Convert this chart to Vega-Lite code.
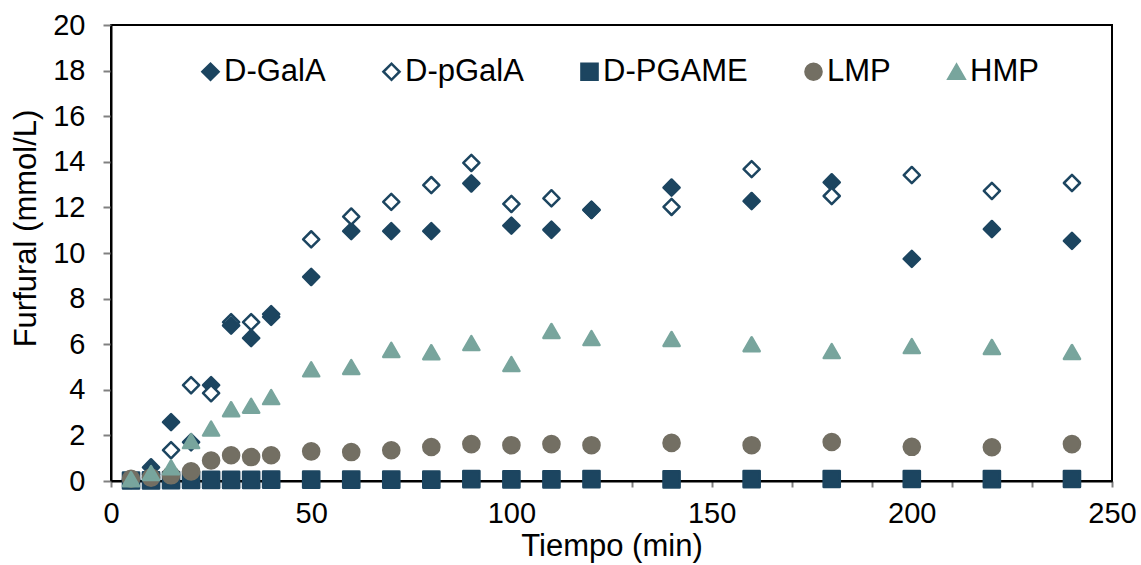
{
  "$schema": "https://vega.github.io/schema/vega-lite/v6.json",
  "autosize": {"type": "none"},
  "padding": {"left": 111, "top": 25, "right": 29, "bottom": 84},
  "width": 1001,
  "height": 456,
  "background": "white",
  "config": {
    "font": "Liberation Sans",
    "view": {"stroke": "#000000", "strokeWidth": 2},
    "axis": {"grid": false, "domainColor": "#000000", "domainWidth": 2, "tickColor": "#808080", "tickWidth": 2, "labelColor": "#000000", "titleColor": "#000000", "labelFont": "Liberation Sans", "titleFont": "Liberation Sans", "titleFontWeight": "normal", "labelFontSize": 29, "titleFontSize": 31},
    "legend": {"labelFont": "Liberation Sans", "labelFontSize": 31, "labelColor": "#000000", "symbolSize": 260, "symbolStrokeWidth": 2.5}
  },
  "data": {"values": [
    {"t": 30, "serie": "D-pGalA", "v": 6.97},
    {"t": 40, "serie": "D-pGalA", "v": 7.2},
    {"t": 120, "serie": "D-pGalA", "v": 11.88},
    {"t": 5, "serie": "D-GalA", "v": 0.05},
    {"t": 10, "serie": "D-GalA", "v": 0.6},
    {"t": 15, "serie": "D-GalA", "v": 2.58},
    {"t": 20, "serie": "D-GalA", "v": 1.7},
    {"t": 25, "serie": "D-GalA", "v": 4.2},
    {"t": 30, "serie": "D-GalA", "v": 6.82},
    {"t": 35, "serie": "D-GalA", "v": 6.27},
    {"t": 40, "serie": "D-GalA", "v": 7.32},
    {"t": 50, "serie": "D-GalA", "v": 8.95},
    {"t": 60, "serie": "D-GalA", "v": 10.96},
    {"t": 70, "serie": "D-GalA", "v": 10.96},
    {"t": 80, "serie": "D-GalA", "v": 10.96},
    {"t": 90, "serie": "D-GalA", "v": 13.05},
    {"t": 100, "serie": "D-GalA", "v": 11.2},
    {"t": 110, "serie": "D-GalA", "v": 11.02},
    {"t": 120, "serie": "D-GalA", "v": 11.9},
    {"t": 140, "serie": "D-GalA", "v": 12.87},
    {"t": 160, "serie": "D-GalA", "v": 12.28},
    {"t": 180, "serie": "D-GalA", "v": 13.1},
    {"t": 200, "serie": "D-GalA", "v": 9.74},
    {"t": 220, "serie": "D-GalA", "v": 11.05},
    {"t": 240, "serie": "D-GalA", "v": 10.53},
    {"t": 5, "serie": "D-pGalA", "v": 0.05},
    {"t": 10, "serie": "D-pGalA", "v": 0.3},
    {"t": 15, "serie": "D-pGalA", "v": 1.35},
    {"t": 20, "serie": "D-pGalA", "v": 4.2},
    {"t": 25, "serie": "D-pGalA", "v": 3.85},
    {"t": 35, "serie": "D-pGalA", "v": 6.97},
    {"t": 50, "serie": "D-pGalA", "v": 10.6},
    {"t": 60, "serie": "D-pGalA", "v": 11.6},
    {"t": 70, "serie": "D-pGalA", "v": 12.24},
    {"t": 80, "serie": "D-pGalA", "v": 12.98},
    {"t": 90, "serie": "D-pGalA", "v": 13.95},
    {"t": 100, "serie": "D-pGalA", "v": 12.15},
    {"t": 110, "serie": "D-pGalA", "v": 12.4},
    {"t": 140, "serie": "D-pGalA", "v": 12.02},
    {"t": 160, "serie": "D-pGalA", "v": 13.68},
    {"t": 180, "serie": "D-pGalA", "v": 12.5},
    {"t": 200, "serie": "D-pGalA", "v": 13.42},
    {"t": 220, "serie": "D-pGalA", "v": 12.72},
    {"t": 240, "serie": "D-pGalA", "v": 13.07},
    {"t": 5, "serie": "D-PGAME", "v": 0.02},
    {"t": 10, "serie": "D-PGAME", "v": 0.03},
    {"t": 15, "serie": "D-PGAME", "v": 0.04},
    {"t": 20, "serie": "D-PGAME", "v": 0.05},
    {"t": 25, "serie": "D-PGAME", "v": 0.05},
    {"t": 30, "serie": "D-PGAME", "v": 0.05},
    {"t": 35, "serie": "D-PGAME", "v": 0.05},
    {"t": 40, "serie": "D-PGAME", "v": 0.06},
    {"t": 50, "serie": "D-PGAME", "v": 0.06},
    {"t": 60, "serie": "D-PGAME", "v": 0.06},
    {"t": 70, "serie": "D-PGAME", "v": 0.06},
    {"t": 80, "serie": "D-PGAME", "v": 0.06},
    {"t": 90, "serie": "D-PGAME", "v": 0.08},
    {"t": 100, "serie": "D-PGAME", "v": 0.07},
    {"t": 110, "serie": "D-PGAME", "v": 0.07},
    {"t": 120, "serie": "D-PGAME", "v": 0.08},
    {"t": 140, "serie": "D-PGAME", "v": 0.07},
    {"t": 160, "serie": "D-PGAME", "v": 0.08},
    {"t": 180, "serie": "D-PGAME", "v": 0.09},
    {"t": 200, "serie": "D-PGAME", "v": 0.09},
    {"t": 220, "serie": "D-PGAME", "v": 0.08},
    {"t": 240, "serie": "D-PGAME", "v": 0.09},
    {"t": 5, "serie": "LMP", "v": 0.1},
    {"t": 10, "serie": "LMP", "v": 0.15},
    {"t": 15, "serie": "LMP", "v": 0.25},
    {"t": 20, "serie": "LMP", "v": 0.42},
    {"t": 25, "serie": "LMP", "v": 0.9},
    {"t": 30, "serie": "LMP", "v": 1.13},
    {"t": 35, "serie": "LMP", "v": 1.05},
    {"t": 40, "serie": "LMP", "v": 1.13},
    {"t": 50, "serie": "LMP", "v": 1.3},
    {"t": 60, "serie": "LMP", "v": 1.27},
    {"t": 70, "serie": "LMP", "v": 1.35},
    {"t": 80, "serie": "LMP", "v": 1.49},
    {"t": 90, "serie": "LMP", "v": 1.62},
    {"t": 100, "serie": "LMP", "v": 1.57},
    {"t": 110, "serie": "LMP", "v": 1.62},
    {"t": 120, "serie": "LMP", "v": 1.57},
    {"t": 140, "serie": "LMP", "v": 1.67},
    {"t": 160, "serie": "LMP", "v": 1.57},
    {"t": 180, "serie": "LMP", "v": 1.71},
    {"t": 200, "serie": "LMP", "v": 1.5},
    {"t": 220, "serie": "LMP", "v": 1.48},
    {"t": 240, "serie": "LMP", "v": 1.62},
    {"t": 5, "serie": "HMP", "v": 0.08},
    {"t": 10, "serie": "HMP", "v": 0.35},
    {"t": 15, "serie": "HMP", "v": 0.6},
    {"t": 20, "serie": "HMP", "v": 1.75},
    {"t": 25, "serie": "HMP", "v": 2.3},
    {"t": 30, "serie": "HMP", "v": 3.15},
    {"t": 35, "serie": "HMP", "v": 3.3},
    {"t": 40, "serie": "HMP", "v": 3.68},
    {"t": 50, "serie": "HMP", "v": 4.9},
    {"t": 60, "serie": "HMP", "v": 5.0},
    {"t": 70, "serie": "HMP", "v": 5.75},
    {"t": 80, "serie": "HMP", "v": 5.65},
    {"t": 90, "serie": "HMP", "v": 6.05},
    {"t": 100, "serie": "HMP", "v": 5.13},
    {"t": 110, "serie": "HMP", "v": 6.58},
    {"t": 120, "serie": "HMP", "v": 6.27},
    {"t": 140, "serie": "HMP", "v": 6.23},
    {"t": 160, "serie": "HMP", "v": 6.0},
    {"t": 180, "serie": "HMP", "v": 5.7},
    {"t": 200, "serie": "HMP", "v": 5.92},
    {"t": 220, "serie": "HMP", "v": 5.88},
    {"t": 240, "serie": "HMP", "v": 5.66}
  ]},
  "mark": {"type": "point", "filled": true, "size": 260, "strokeWidth": 2.5, "strokeJoin": "round", "opacity": 1},
  "encoding": {
    "x": {"field": "t", "type": "quantitative", "title": "Tiempo (min)",
      "scale": {"domain": [0, 250], "nice": false, "zero": true},
      "axis": {"values": [0,10,20,30,40,50,60,70,80,90,100,110,120,130,140,150,160,170,180,190,200,210,220,230,240,250],
        "labelExpr": "datum.value % 50 === 0 ? datum.label : ''", "labelOverlap": false, "labelFlush": false,
        "tickSize": 6, "labelPadding": 12, "titlePadding": 3}},
    "y": {"field": "v", "type": "quantitative", "title": "Furfural (mmol/L)",
      "scale": {"domain": [0, 20], "nice": false},
      "axis": {"values": [0,2,4,6,8,10,12,14,16,18,20], "tickSize": 8, "labelPadding": 18, "labelOverlap": false, "labelFlush": false, "titlePadding": 10, "titleY": 203}},
    "fill": {"field": "serie", "type": "nominal",
      "scale": {"domain": ["D-GalA","D-pGalA","D-PGAME","LMP","HMP"], "range": ["#1c4560","#ffffff","#1c4560","#736f63","#78a59d"]},
      "legend": {"title": null, "orient": "none", "legendX": 84, "legendY": 31, "direction": "horizontal", "columns": 5, "columnPadding": 50, "labelOffset": -2}},
    "stroke": {"field": "serie", "type": "nominal",
      "scale": {"domain": ["D-GalA","D-pGalA","D-PGAME","LMP","HMP"], "range": ["#1c4560","#1c4560","#1c4560","#736f63","#78a59d"]},
      "legend": {"title": null, "orient": "none", "legendX": 84, "legendY": 31, "direction": "horizontal", "columns": 5, "columnPadding": 50, "labelOffset": -2}},
    "shape": {"field": "serie", "type": "nominal",
      "scale": {"domain": ["D-GalA","D-pGalA","D-PGAME","LMP","HMP"], "range": ["diamond","diamond","square","circle","triangle-up"]},
      "legend": {"title": null, "orient": "none", "legendX": 84, "legendY": 31, "direction": "horizontal", "columns": 5, "columnPadding": 50, "labelOffset": -2}}
  }
}
